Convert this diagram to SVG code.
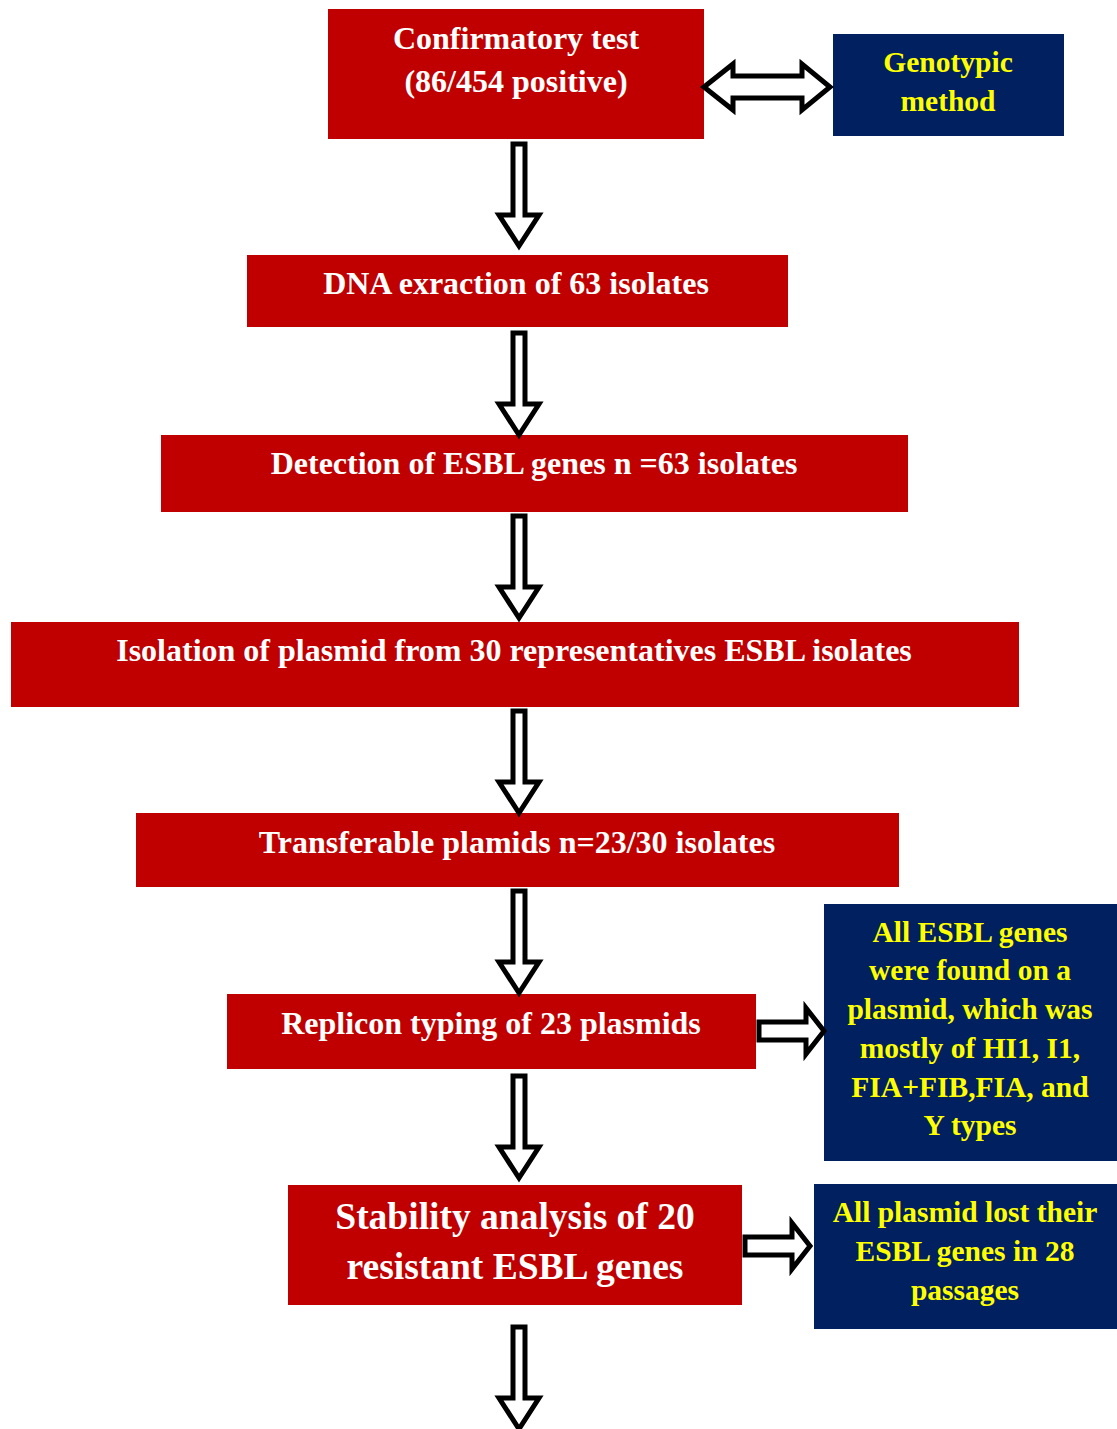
<svg xmlns="http://www.w3.org/2000/svg" width="1117" height="1429" viewBox="0 0 1117 1429">
<style>
.red{fill:#C00000}
.blue{fill:#002060}
.wt{fill:#FFFFFF;font-family:"Liberation Serif","Times New Roman",serif;font-weight:bold;font-size:32px;text-anchor:middle}
.yt{fill:#FFFF00;font-family:"Liberation Serif","Times New Roman",serif;font-weight:bold;font-size:29.5px;text-anchor:middle}
.big{font-size:37.5px}
.arr{fill:#FFFFFF;stroke:#000000;stroke-width:5;stroke-linejoin:miter;stroke-miterlimit:10}
</style>
<defs>
<path id="down" d="M-6,0 L6,0 L6,71 L20,71 L0,102 L-20,71 L-6,71 Z"/>
<path id="right" d="M0,-9 L47,-9 L47,-23 L65,0 L47,23 L47,9 L0,9 Z"/>
</defs>
<rect width="1117" height="1429" fill="#FFFFFF"/>
<g id="n1"><rect class="red" x="328" y="9" width="376" height="130"/><text class="wt" x="516" y="49">Confirmatory test</text><text class="wt" x="516" y="92">(86/454 positive)</text></g>
<g id="n2"><rect class="blue" x="833" y="34" width="231" height="102"/><text class="yt" x="948" y="72">Genotypic</text><text class="yt" x="948" y="111">method</text></g>
<g id="n3"><rect class="red" x="247" y="255" width="541" height="72"/><text class="wt" x="516" y="294">DNA exraction of 63 isolates</text></g>
<g id="n4"><rect class="red" x="161" y="435" width="747" height="77"/><text class="wt" x="534" y="474">Detection of ESBL genes n =63 isolates</text></g>
<g id="n5"><rect class="red" x="11" y="622" width="1008" height="85"/><text class="wt" x="514" y="661">Isolation of plasmid from 30 representatives ESBL isolates</text></g>
<g id="n6"><rect class="red" x="136" y="813" width="763" height="74"/><text class="wt" x="517" y="853">Transferable plamids n=23/30 isolates</text></g>
<g id="n7"><rect class="red" x="227" y="994" width="529" height="75"/><text class="wt" x="491" y="1034">Replicon typing of 23 plasmids</text></g>
<g id="n8"><rect class="blue" x="824" y="904" width="293" height="257"/>
<text class="yt" x="970" y="942">All ESBL genes</text>
<text class="yt" x="970" y="980">were found on a</text>
<text class="yt" x="970" y="1019">plasmid, which was</text>
<text class="yt" x="970" y="1058">mostly of HI1, I1,</text>
<text class="yt" x="970" y="1097">FIA+FIB,FIA, and</text>
<text class="yt" x="970" y="1135">Y types</text></g>
<g id="n9"><rect class="red" x="288" y="1185" width="454" height="120"/><text class="wt big" x="515" y="1229">Stability analysis of 20</text><text class="wt big" x="515" y="1279">resistant ESBL genes</text></g>
<g id="n10"><rect class="blue" x="814" y="1184" width="303" height="145"/>
<text class="yt" x="965" y="1222">All plasmid lost their</text>
<text class="yt" x="965" y="1261">ESBL genes in 28</text>
<text class="yt" x="965" y="1300">passages</text></g>
<g id="connectors">
<path class="arr" stroke-width="6" d="M704,87 L733,64 L733,76 L802,76 L802,64 L830,87 L802,110 L802,98 L733,98 L733,110 Z"/>
<use class="arr" href="#down" x="519" y="144"/>
<use class="arr" href="#down" x="519" y="333"/>
<use class="arr" href="#down" x="519" y="516"/>
<use class="arr" href="#down" x="519" y="711"/>
<use class="arr" href="#down" x="519" y="891"/>
<use class="arr" href="#down" x="519" y="1076"/>
<use class="arr" href="#down" x="519" y="1327"/>
<use class="arr" href="#right" x="759" y="1031"/>
<use class="arr" href="#right" x="745" y="1246"/>
</g>
</svg>
